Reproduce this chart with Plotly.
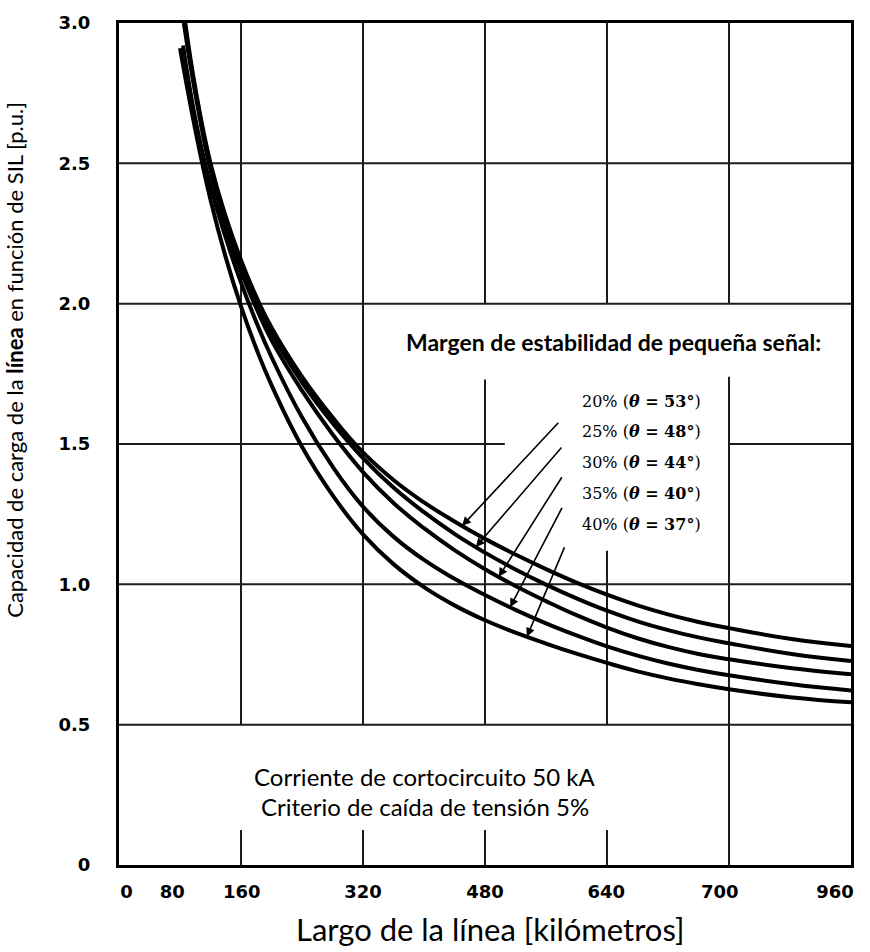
import numpy as np
import plotly.graph_objects as go

# Line loadability (p.u. of SIL) versus line length (km), one series per
# small-signal stability margin.
km_20 = [87, 100, 120, 140, 160, 180, 200, 240, 280, 320, 360, 400, 440, 480, 520, 560, 600, 640, 680, 720, 760, 800, 880, 960]
sil_20 = [3.00, 2.77, 2.50, 2.31, 2.155, 2.025, 1.915, 1.74, 1.595, 1.47, 1.372, 1.292, 1.224, 1.162, 1.106,
          1.054, 1.006, 0.963, 0.925, 0.893, 0.866, 0.844, 0.806, 0.780]

km_25 = [86, 100, 120, 140, 160, 180, 200, 240, 280, 320, 360, 400, 440, 480, 520, 560, 600, 640, 680, 720, 760, 800, 880, 960]
sil_25 = [3.00, 2.76, 2.49, 2.29, 2.135, 2.005, 1.895, 1.72, 1.575, 1.45, 1.345, 1.257, 1.18, 1.113, 1.053,
          0.999, 0.950, 0.906, 0.868, 0.837, 0.811, 0.790, 0.753, 0.727]

km_30 = [85, 100, 120, 140, 160, 180, 200, 240, 280, 320, 360, 400, 440, 480, 520, 560, 600, 640, 680, 720, 760, 800, 880, 960]
sil_30 = [3.00, 2.75, 2.475, 2.275, 2.115, 1.985, 1.87, 1.69, 1.535, 1.40, 1.29, 1.20, 1.122, 1.054, 0.994,
          0.940, 0.890, 0.846, 0.808, 0.777, 0.752, 0.733, 0.702, 0.680]

km_35 = [84, 100, 120, 140, 160, 180, 200, 240, 280, 320, 360, 400, 440, 480, 520, 560, 600, 640, 680, 720, 760, 800, 880, 960]
sil_35 = [2.92, 2.66, 2.42, 2.235, 2.075, 1.935, 1.81, 1.595, 1.42, 1.277, 1.17, 1.087, 1.02, 0.962, 0.909,
          0.861, 0.818, 0.779, 0.746, 0.718, 0.695, 0.676, 0.645, 0.622]

km_40 = [80, 100, 120, 140, 160, 180, 200, 240, 280, 320, 360, 400, 440, 480, 520, 560, 600, 640, 680, 720, 760, 800, 880, 960]
sil_40 = [2.91, 2.62, 2.37, 2.165, 1.99, 1.84, 1.71, 1.49, 1.318, 1.178, 1.072, 0.99, 0.925, 0.872, 0.828,
          0.789, 0.753, 0.720, 0.690, 0.665, 0.644, 0.626, 0.598, 0.580]

series_labels = [
    "20% (<b><i>θ</i> = 53°</b>)",
    "25% (<b><i>θ</i> = 48°</b>)",
    "30% (<b><i>θ</i> = 44°</b>)",
    "35% (<b><i>θ</i> = 40°</b>)",
    "40% (<b><i>θ</i> = 37°</b>)",
]

# Axis tick labels
x_tick_pos = [10, 70, 161, 320, 480, 639, 788, 939]
x_tick_text = ["0", "80", "160", "320", "480", "640", "700", "960"]
y_tick_pos = [0, 0.5, 1.0, 1.5, 2.0, 2.5, 3.0]
y_tick_text = ["0", "0.5", "1.0", "1.5", "2.0", "2.5", "3.0"]

curves = [(km_20, sil_20), (km_25, sil_25), (km_30, sil_30), (km_35, sil_35), (km_40, sil_40)]

fig = go.Figure()
for (xs, ys), name in zip(curves, series_labels):
    fig.add_trace(go.Scatter(
        x=xs, y=ys, mode="lines", name=name, showlegend=False,
        line=dict(color="black", width=4, shape="spline", smoothing=1.3),
        hoverinfo="skip",
    ))

# Grid drawn as segments so that it leaves room for the text blocks
GRID = "#1c1c1c"
v_segments = [
    (160, 0.5, 3.0), (160, 0.0, 0.125),
    (320, 0.5, 3.0), (320, 0.0, 0.125),
    (480, 2.0, 3.0), (480, 0.5, 1.73), (480, 0.0, 0.125),
    (640, 2.0, 3.0), (640, 0.5, 1.12), (640, 0.0, 0.125),
    (800, 2.0, 3.0), (800, 0.0, 1.74),
]
h_segments = [
    (0.5, 0, 960), (1.0, 0, 960), (1.5, 0, 506), (1.5, 800, 960),
    (2.0, 0, 960), (2.5, 0, 960),
]
for gx, y0, y1 in v_segments:
    fig.add_shape(type="line", xref="x", yref="y", x0=gx, x1=gx, y0=y0, y1=y1,
                  line=dict(color=GRID, width=2), layer="between")
for gy, x0, x1 in h_segments:
    fig.add_shape(type="line", xref="x", yref="y", x0=x0, x1=x1, y0=gy, y1=gy,
                  line=dict(color=GRID, width=2), layer="between")

# Labels for each margin, with arrows pointing to their curve
label_x = 766
label_y = [1.652, 1.543, 1.433, 1.324, 1.214]
arrow_tip_km = [450, 468, 498, 513, 535]
arrow_tail = [(578, 1.581), (582, 1.493), (582, 1.387), (582, 1.278), (585, 1.137)]

for (xs, ys), name, ly, tip, (tx, ty) in zip(curves, series_labels, label_y, arrow_tip_km, arrow_tail):
    fig.add_annotation(
        x=label_x, y=ly, xref="x", yref="y", text=name, showarrow=False,
        xanchor="right", yanchor="middle",
        font=dict(family="DejaVu Serif", size=16, color="black"),
    )
    fig.add_annotation(
        x=tip, y=float(np.interp(tip, xs, ys)), xref="x", yref="y",
        ax=tx, ay=ty, axref="x", ayref="y", text="", showarrow=True,
        arrowhead=2, arrowsize=1.1, arrowwidth=1.6, arrowcolor="black",
        standoff=0, startstandoff=0,
    )

SANS = "Lato"
fig.add_annotation(
    x=648, y=1.864, xref="x", yref="y", showarrow=False,
    text="<b>Margen de estabilidad de pequeña señal:</b>",
    font=dict(family=SANS, size=23, color="black"),
)
fig.add_annotation(
    x=401, y=0.314, xref="x", yref="y", showarrow=False,
    text="Corriente de cortocircuito 50 kA",
    font=dict(family=SANS, size=24, color="black"),
)
fig.add_annotation(
    x=401, y=0.208, xref="x", yref="y", showarrow=False,
    text="Criterio de caída de tensión 5%",
    font=dict(family=SANS, size=24, color="black"),
)

# Axis titles
fig.add_annotation(
    x=-0.1421, y=0.60, xref="paper", yref="paper", showarrow=False,
    textangle=-90, xanchor="center", yanchor="middle",
    text="Capacidad de carga de la <b>línea</b> en función de SIL [p.u.]",
    font=dict(family=SANS, size=22, color="black"),
)
fig.add_annotation(
    x=0.507, y=-0.0765, xref="paper", yref="paper", showarrow=False,
    xanchor="center", yanchor="middle",
    text="Largo de la línea [kilómetros]",
    font=dict(family=SANS, size=31, color="black"),
)

TICKFONT = dict(family="DejaVu Sans", size=18, color="black", weight="bold")
fig.update_xaxes(
    range=[0, 960], showgrid=False, zeroline=False,
    showline=True, mirror=True, linecolor="black", linewidth=3,
    tickmode="array", tickvals=x_tick_pos, ticktext=x_tick_text,
    ticks="", ticklabelstandoff=8, tickfont=TICKFONT,
)
fig.update_yaxes(
    range=[0, 3], showgrid=False, zeroline=False,
    showline=True, mirror=True, linecolor="black", linewidth=3,
    tickmode="array", tickvals=y_tick_pos, ticktext=y_tick_text,
    ticks="", ticklabelstandoff=22, tickfont=TICKFONT,
)
fig.update_layout(
    width=870, height=952,
    margin=dict(l=119, r=19, t=15, b=87),
    paper_bgcolor="white", plot_bgcolor="white",
    showlegend=False,
)

fig.write_html("out.html")
